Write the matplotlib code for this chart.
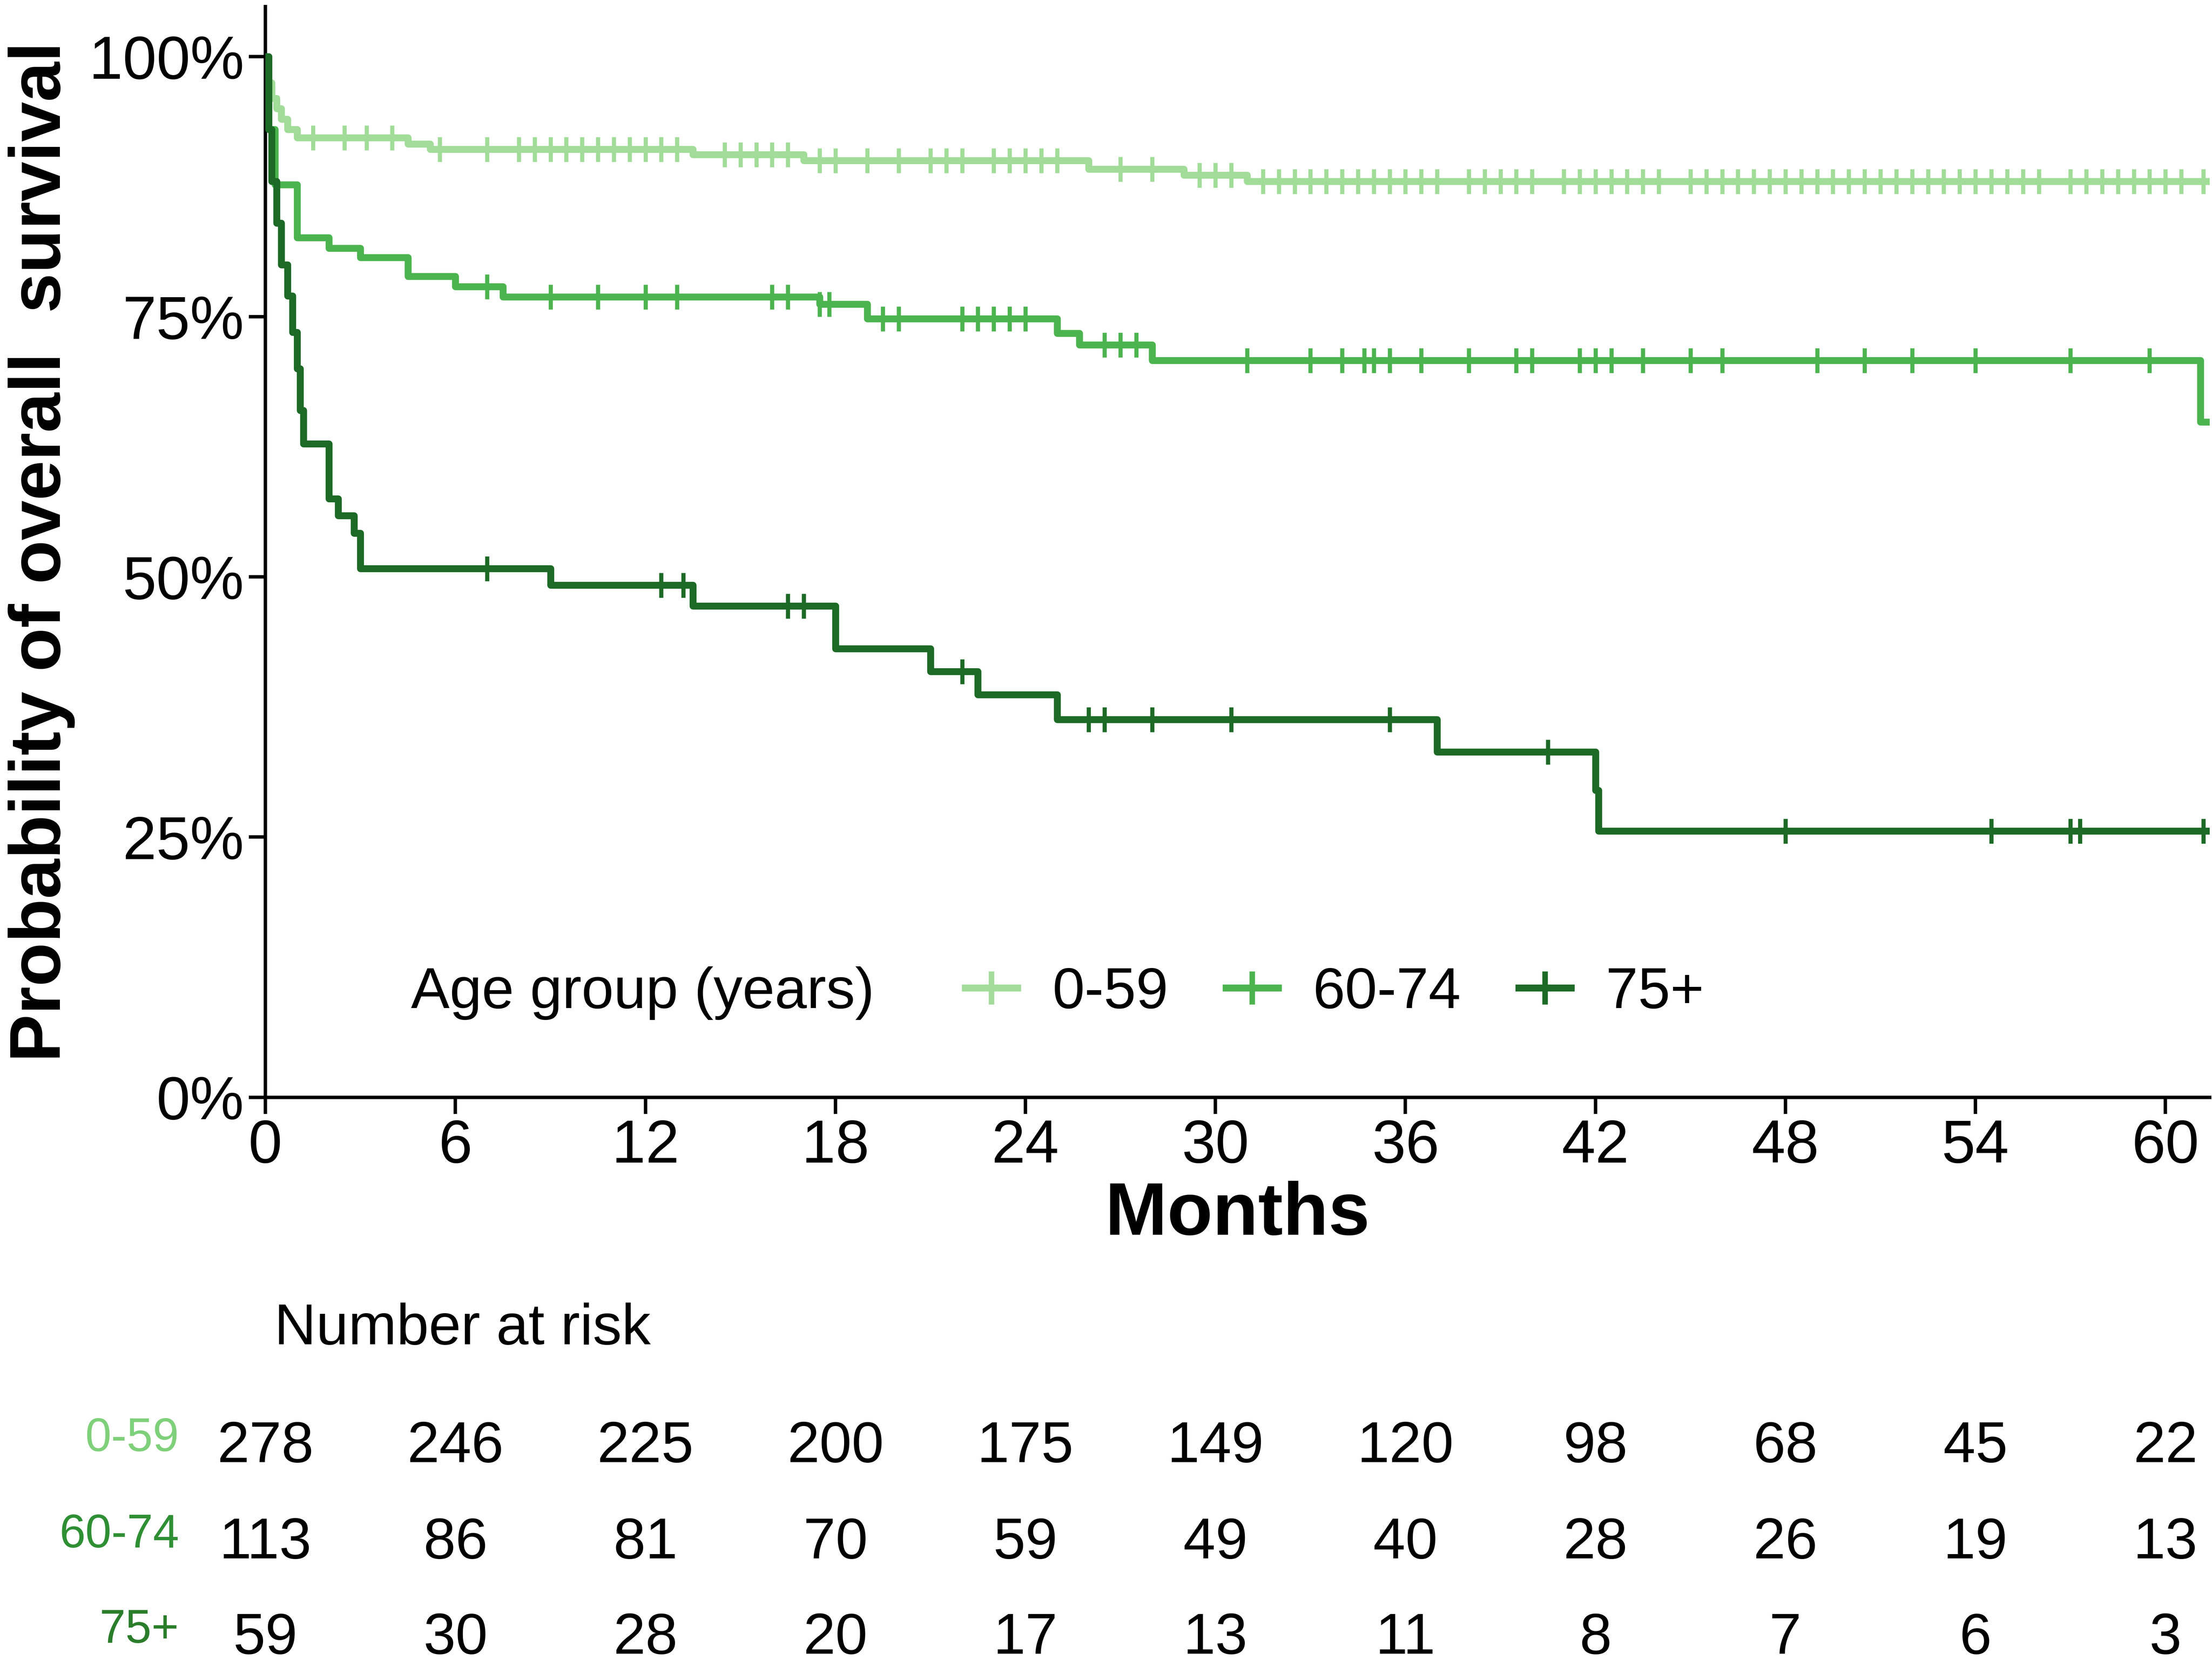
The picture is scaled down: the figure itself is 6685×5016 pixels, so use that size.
"""Kaplan-Meier overall survival by age group with a number-at-risk table."""

import matplotlib
matplotlib.use("Agg")
import matplotlib.pyplot as plt
import numpy as np
from matplotlib.transforms import blended_transform_factory

plt.rcParams["font.family"] = ["Liberation Sans", "DejaVu Sans"]

group_labels = ["0-59", "60-74", "75+"]
line_colors = ["#a1dc98", "#4cb44f", "#1c6a26"]
risk_label_colors = ["#7fd07a", "#2f8f34", "#2a7d2a"]

# step times (months) and survival (%) after each step
times_young = [0, 0.1, 0.2, 0.35, 0.5, 0.7, 1.0, 4.5, 5.2, 13.5, 17.0, 26.0, 29.0, 31.0, 61.5]
surv_young = [100, 97.5, 96, 95, 94, 93, 92.2, 91.6, 91.1, 90.6, 90.0, 89.2, 88.6, 88.0, 88.0]

times_mid = [0, 0.1, 0.3, 1.0, 2.0, 3.0, 4.5, 6.0, 7.5, 17.5, 19.0, 25.0, 25.7, 28.0, 61.1, 61.5]
surv_mid = [100, 93, 87.7, 82.6, 81.6, 80.7, 78.9, 77.9, 76.9, 76.2, 74.8, 73.4, 72.3, 70.8, 64.9, 64.9]

times_old = [0, 0.1, 0.2, 0.35, 0.5, 0.7, 0.85, 1.0, 1.1, 1.2, 2.0, 2.3, 2.8, 3.0,
             9.0, 13.5, 18.0, 21.0, 22.5, 25.0, 37.0, 42.0, 42.1, 61.5]
surv_old = [100, 93, 88, 84, 80, 77, 73.5, 70, 66, 62.8, 57.5, 55.9, 54.2, 50.8,
            49.2, 47.2, 43.1, 40.9, 38.7, 36.3, 33.2, 29.5, 25.6, 25.6]

censor_young = [1.5, 2.5, 3.2, 4.0, 5.5, 7, 8, 8.5, 9, 9.5, 10, 10.5, 11, 11.5, 12, 12.5, 13,
                14.5, 15, 15.5, 16, 16.5, 17.5, 18, 19, 20, 21, 21.5, 22, 23, 23.5, 24, 24.5,
                25, 27, 28, 29.5, 30, 30.5, 31.5, 32, 32.5, 33, 33.5, 34, 34.5, 35, 35.5, 36,
                36.5, 37, 38, 38.5, 39, 39.5, 40, 41, 41.5, 42, 42.5, 43, 43.5, 44, 45, 45.5,
                46, 46.5, 47, 47.5, 48, 48.5, 49, 49.5, 50, 50.5, 51, 51.5, 52, 52.5, 53,
                53.5, 54, 54.5, 55, 55.5, 56, 57, 57.5, 58, 58.5, 59, 59.5, 60, 60.5, 61.2]
censor_mid = [7, 9, 10.5, 12, 13, 16, 16.5, 17.5, 17.8, 19.5, 20, 22, 22.5, 23, 23.5, 24,
              26.5, 27, 27.5, 31, 33, 34, 34.7, 35, 35.5, 36.5, 38, 39.5, 40, 41.5, 42, 42.5,
              43.5, 45, 46, 49, 50.5, 52, 54, 57, 59.5]
censor_old = [7, 12.5, 13.2, 16.5, 17, 22, 26, 26.5, 28, 30.5, 35.5, 40.5, 48, 54.5, 57, 57.3, 61.2]

risk_times = [0, 6, 12, 18, 24, 30, 36, 42, 48, 54, 60]
risk_young = [278, 246, 225, 200, 175, 149, 120, 98, 68, 45, 22]
risk_mid = [113, 86, 81, 70, 59, 49, 40, 28, 26, 19, 13]
risk_old = [59, 30, 28, 20, 17, 13, 11, 8, 7, 6, 3]


def step_value(times, surv, t):
    idx = np.searchsorted(np.asarray(times), t, side="right") - 1
    return np.asarray(surv)[idx]


fig = plt.figure(figsize=(6685 / 300, 5016 / 300), dpi=300)
ax = fig.add_axes([0.12, 0.339, 0.879, 0.657])

curves = [(times_young, surv_young, censor_young),
          (times_mid, surv_mid, censor_mid),
          (times_old, surv_old, censor_old)]
handles = []
for (t, s, cens), color, label in zip(curves, line_colors, group_labels):
    ax.step(t, s, where="post", color=color, lw=5, zorder=3)
    cy = [step_value(t, s, c) for c in cens]
    ax.plot(cens, cy, ls="none", marker="|", ms=18, mew=3, color=color, zorder=4)
    h, = ax.plot([], [], color=color, lw=5, marker="+", ms=24, mew=4)
    handles.append(h)

ax.set_xlim(0, 61.4)
ax.set_ylim(0, 104.8)
ax.set_xticks(range(0, 61, 6))
ax.set_yticks([0, 25, 50, 75, 100])
ax.set_yticklabels(["0%", "25%", "50%", "75%", "100%"])
ax.tick_params(labelsize=44, width=2.5, length=12, colors="black")
for side in ("top", "right"):
    ax.spines[side].set_visible(False)
for side in ("left", "bottom"):
    ax.spines[side].set_linewidth(2.5)
ax.set_xlabel("Months", fontsize=54, fontweight="bold", labelpad=4)
ax.set_ylabel("Probability of overall  survival", fontsize=52, fontweight="bold", labelpad=10)

ax.text(4.6, 10, "Age group (years)", fontsize=42, va="center", ha="left")
ax.legend(handles, group_labels, loc="center left", bbox_to_anchor=(22.1, 10),
          bbox_transform=ax.transData, ncol=3, frameon=False, fontsize=42,
          borderpad=0, borderaxespad=0, handlelength=0.9, handletextpad=0.6,
          columnspacing=1.0)

trans = blended_transform_factory(ax.transData, fig.transFigure)
fig.text(0.124, 1 - 937 / 1170, "Number at risk", fontsize=42, va="center", ha="left")
row_y = [1 - 1020 / 1170, 1 - 1088 / 1170, 1 - 1155 / 1170]
for y, counts, label, lc in zip(row_y, [risk_young, risk_mid, risk_old],
                                group_labels, risk_label_colors):
    fig.text(0.081, y + 0.005, label, fontsize=34, color=lc, ha="right", va="center")
    for t, n in zip(risk_times, counts):
        fig.text(t, y, str(n), transform=trans, fontsize=42, ha="center", va="center")

fig.savefig("out.png", dpi=300)
